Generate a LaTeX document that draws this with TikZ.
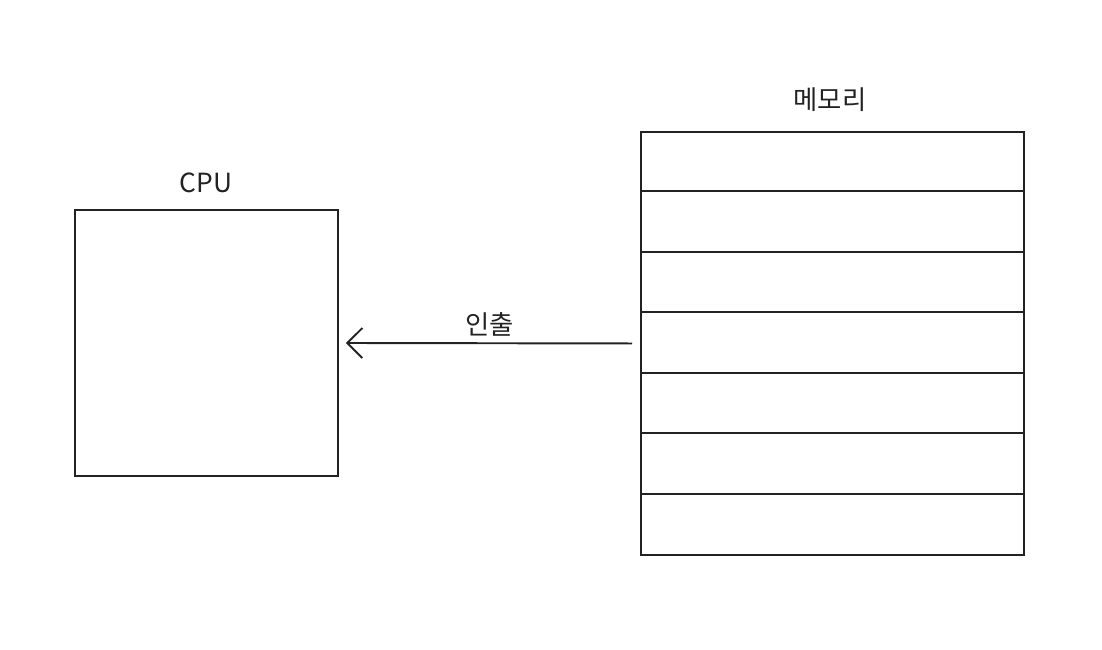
\documentclass[tikz,border=0pt]{standalone}
\usepackage{fontspec}
\setmainfont{Noto Sans CJK KR}
\usepackage{tikz}
\usetikzlibrary{positioning, arrows.meta}
\definecolor{inkgray}{HTML}{222222}

\tikzset{
  box/.style={draw=inkgray, line width=1.1pt, inner sep=0pt},
  lbl/.style={font=\fontsize{15}{18}\selectfont, text=inkgray}
}

\begin{document}
\begin{tikzpicture}
    \useasboundingbox (0,0) rectangle (22.04,13);
    % CPU
    \node[box, minimum width=5.26cm, minimum height=5.32cm] (cpu) at (4.13,6.14) {};
    \node[lbl] (cpulabel) at (4.12,9.34) {CPU};
    % memory with its rows
    \node[box, minimum width=7.66cm, minimum height=8.46cm] (mem) at (16.65,6.13) {};
    \node[lbl] (memlabel) at (16.6,11.0) {메모리};
    \foreach \i in {1,...,6}
      \draw[draw=inkgray, line width=1.1pt] ([yshift=-\i*1.2086cm]mem.north west) -- ([yshift=-\i*1.2086cm]mem.north east);
    % fetch
    \draw[draw=inkgray, line width=1.1pt, -{Straight Barb[length=0.3cm, width=0.6cm]},
          shorten <=0.16cm, shorten >=0.14cm] (mem.west) -- (cpu.east)
      node[lbl, midway, above] (fetchlabel) {인출};
  \end{tikzpicture}
\end{document}
